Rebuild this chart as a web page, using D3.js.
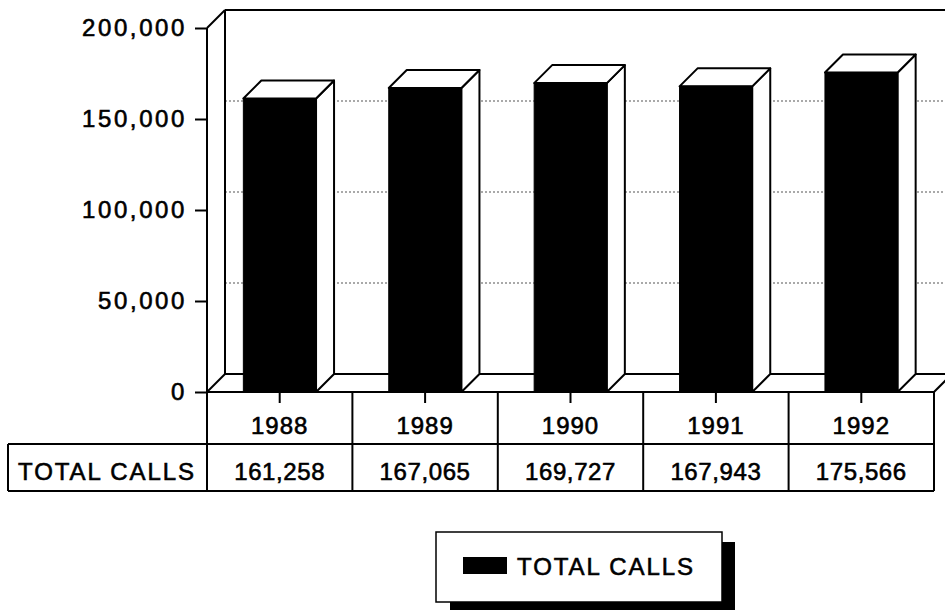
<!DOCTYPE html>
<html>
<head>
<meta charset="utf-8">
<script src="https://cdn.jsdelivr.net/npm/d3@7"></script>
<style>
  html, body { margin: 0; padding: 0; background: #fff; }
  svg { display: block; }
  text { font-family: "Liberation Sans", Arial, sans-serif; fill: #000; stroke: #000; stroke-width: 0.6px; }
</style>
</head>
<body>
<div id="chart"></div>
<script>
// ---- data ----
const years = ["1988", "1989", "1990", "1991", "1992"];
const totalCalls = [161258, 167065, 169727, 167943, 175566];
const yTicks = [0, 50000, 100000, 150000, 200000];
const seriesName = "TOTAL CALLS";

// ---- layout ----
const W = 945, H = 610;
const plotLeft = 207, plotRight = 934, plotTop = 28, floorY = 392;
const dx = 18, dy = -18;             // 3D depth offset
const row1 = 444, row2 = 491, labelLeft = 8;
const fontSize = 24;

const svg = d3.select("#chart").append("svg")
  .attr("width", W).attr("height", H);

const x = d3.scaleBand().domain(years).range([plotLeft, plotRight])
  .paddingInner(0.5).paddingOuter(0.25);
const y = d3.scaleLinear().domain([0, 200000]).range([floorY, plotTop]);

const ink = "#000";

// back wall gridlines (dotted)
svg.append("g").selectAll("line").data(yTicks.filter(t => t > 0 && t < 200000)).join("line")
  .attr("x1", plotLeft + dx).attr("x2", W)
  .attr("y1", d => y(d) + dy).attr("y2", d => y(d) + dy)
  .attr("stroke", "#555").attr("stroke-width", 1.2)
  .attr("stroke-dasharray", "2,2");

// frame: back wall top, left wall, floor
const frame = svg.append("g").attr("fill", "none").attr("stroke", ink).attr("stroke-width", 2);
frame.append("line").attr("x1", plotLeft + dx).attr("x2", W).attr("y1", y(200000) + dy).attr("y2", y(200000) + dy);
frame.append("line").attr("x1", plotLeft).attr("y1", y(200000)).attr("x2", plotLeft + dx).attr("y2", y(200000) + dy);
frame.append("line").attr("x1", plotLeft + dx).attr("y1", y(200000) + dy).attr("x2", plotLeft + dx).attr("y2", floorY + dy);
frame.append("line").attr("x1", plotLeft).attr("y1", floorY).attr("x2", plotLeft + dx).attr("y2", floorY + dy);
frame.append("line").attr("x1", plotLeft + dx).attr("y1", floorY + dy).attr("x2", W).attr("y2", floorY + dy);
frame.append("line").attr("x1", plotRight).attr("y1", floorY).attr("x2", plotRight + dx).attr("y2", floorY + dy);
// front axis line (continues down through the table)
frame.append("line").attr("x1", plotLeft).attr("y1", y(200000)).attr("x2", plotLeft).attr("y2", row2);

// bars
const data = years.map((yr, i) => ({ yr, v: totalCalls[i] }));
const bars = svg.append("g").selectAll("g").data(data).join("g");
bars.append("path") // side face
  .attr("d", d => {
    const x1 = x(d.yr) + x.bandwidth(), yt = y(d.v);
    return `M${x1},${yt}L${x1 + dx},${yt + dy}L${x1 + dx},${floorY + dy}L${x1},${floorY}Z`;
  })
  .attr("fill", "#fff").attr("stroke", ink).attr("stroke-width", 2).attr("stroke-linejoin", "round");
bars.append("path") // top face
  .attr("d", d => {
    const x0 = x(d.yr), x1 = x0 + x.bandwidth(), yt = y(d.v);
    return `M${x0},${yt}L${x0 + dx},${yt + dy}L${x1 + dx},${yt + dy}L${x1},${yt}Z`;
  })
  .attr("fill", "#fff").attr("stroke", ink).attr("stroke-width", 2).attr("stroke-linejoin", "round");
bars.append("rect") // front face
  .attr("x", d => x(d.yr)).attr("y", d => y(d.v))
  .attr("width", x.bandwidth()).attr("height", d => floorY - y(d.v))
  .attr("fill", ink).attr("stroke", ink).attr("stroke-width", 1);

// front floor line
svg.append("line").attr("x1", plotLeft).attr("x2", plotRight).attr("y1", floorY).attr("y2", floorY)
  .attr("stroke", ink).attr("stroke-width", 2);

// y axis
const yAxis = svg.append("g").attr("transform", `translate(${plotLeft},0)`)
  .call(d3.axisLeft(y).tickValues(yTicks).tickFormat(d3.format(",")).tickSize(12).tickPadding(8));
yAxis.select(".domain").remove();
yAxis.selectAll(".tick line").attr("stroke", ink).attr("stroke-width", 2);
yAxis.selectAll(".tick text")
  .attr("font-family", "Liberation Sans, Arial, sans-serif").attr("font-size", fontSize)
  .attr("letter-spacing", "2.6px").attr("fill", ink);

// category ticks under the floor
svg.append("g").selectAll("line").data(years).join("line")
  .attr("x1", d => x(d) + x.bandwidth() / 2).attr("x2", d => x(d) + x.bandwidth() / 2)
  .attr("y1", floorY).attr("y2", floorY + 11)
  .attr("stroke", ink).attr("stroke-width", 2);

// data table
const step = x.step();
const table = svg.append("g").attr("stroke", ink).attr("stroke-width", 2);
d3.range(years.length + 1).forEach(i => {
  const xx = plotLeft + i * step;
  table.append("line").attr("x1", xx).attr("x2", xx).attr("y1", floorY).attr("y2", row2);
});
table.append("line").attr("x1", labelLeft).attr("x2", plotRight).attr("y1", row1).attr("y2", row1);
table.append("line").attr("x1", labelLeft).attr("x2", plotRight).attr("y1", row2).attr("y2", row2);
table.append("line").attr("x1", labelLeft).attr("x2", labelLeft).attr("y1", row1).attr("y2", row2);

svg.append("g").selectAll("text").data(years).join("text")
  .attr("x", d => x(d) + x.bandwidth() / 2).attr("y", 434)
  .attr("text-anchor", "middle").attr("font-size", fontSize).attr("letter-spacing", "1px")
  .text(d => d);
svg.append("g").selectAll("text").data(data).join("text")
  .attr("x", d => x(d.yr) + x.bandwidth() / 2).attr("y", 480)
  .attr("text-anchor", "middle").attr("font-size", fontSize).attr("letter-spacing", "0.6px")
  .text(d => d3.format(",")(d.v));
svg.append("text").attr("x", 18).attr("y", 480)
  .attr("font-size", fontSize).attr("letter-spacing", "1.9px")
  .text(seriesName);

// legend
const lg = svg.append("g");
lg.append("rect").attr("x", 450).attr("y", 542).attr("width", 285).attr("height", 80).attr("fill", ink);
lg.append("rect").attr("x", 436).attr("y", 532).attr("width", 286).attr("height", 70)
  .attr("fill", "#fff").attr("stroke", ink).attr("stroke-width", 1.5);
lg.append("rect").attr("x", 463).attr("y", 557).attr("width", 44).attr("height", 17).attr("fill", ink);
lg.append("text").attr("x", 517).attr("y", 575).attr("font-size", fontSize).attr("letter-spacing", "1.9px")
  .text(seriesName);
</script>
</body>
</html>
